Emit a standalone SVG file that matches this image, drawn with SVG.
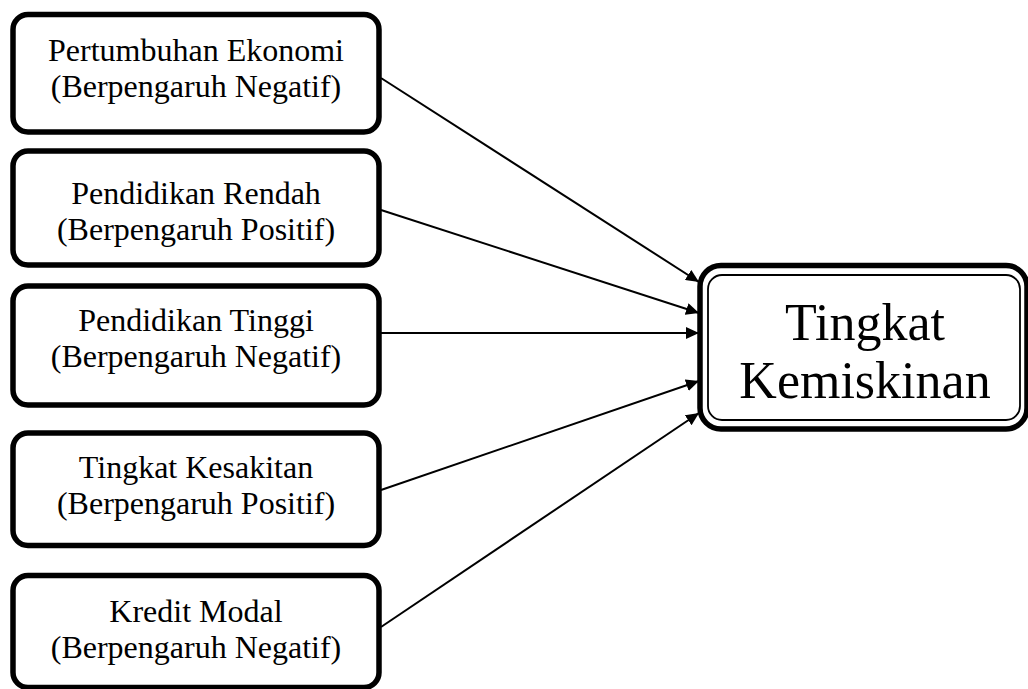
<svg xmlns="http://www.w3.org/2000/svg" width="1028" height="689" viewBox="0 0 1028 689">
<style>
.box{fill:#fff;stroke:#000;stroke-width:5.5}
.t{font-family:"Liberation Serif","Times New Roman",serif;font-size:32px;fill:#000;text-anchor:middle}
.big{font-family:"Liberation Serif","Times New Roman",serif;font-size:52px;fill:#000;text-anchor:middle}
.conn{stroke:#000;stroke-width:2;fill:none;marker-end:url(#ah)}
</style>
<defs>
<marker id="ah" markerUnits="userSpaceOnUse" markerWidth="14" markerHeight="12" refX="13" refY="6" orient="auto">
<path d="M0,0 L13,6 L0,12 Z" fill="#000"/>
</marker>
</defs>
<rect width="1028" height="689" fill="#fff"/>
<g id="connectors">
<line class="conn" x1="381" y1="78" x2="699" y2="282"/>
<line class="conn" x1="381" y1="210" x2="699" y2="313"/>
<line class="conn" x1="381" y1="333" x2="699" y2="333"/>
<line class="conn" x1="381" y1="490" x2="699" y2="381"/>
<line class="conn" x1="381" y1="627" x2="699" y2="413"/>
</g>
<g id="n1">
<rect class="box" x="13" y="14.5" width="366" height="117.5" rx="15"/>
<text class="t" x="196" y="61">Pertumbuhan Ekonomi</text>
<text class="t" x="196" y="97">(Berpengaruh Negatif)</text>
</g>
<g id="n2">
<rect class="box" x="13" y="151" width="366" height="114" rx="15"/>
<text class="t" x="196" y="204">Pendidikan Rendah</text>
<text class="t" x="196" y="240">(Berpengaruh Positif)</text>
</g>
<g id="n3">
<rect class="box" x="13" y="286" width="366" height="119" rx="15"/>
<text class="t" x="196" y="331">Pendidikan Tinggi</text>
<text class="t" x="196" y="367">(Berpengaruh Negatif)</text>
</g>
<g id="n4">
<rect class="box" x="13" y="433" width="366" height="112.5" rx="15"/>
<text class="t" x="196" y="478">Tingkat Kesakitan</text>
<text class="t" x="196" y="514">(Berpengaruh Positif)</text>
</g>
<g id="n5">
<rect class="box" x="13" y="575.5" width="366" height="112" rx="15"/>
<text class="t" x="196" y="622">Kredit Modal</text>
<text class="t" x="196" y="658">(Berpengaruh Negatif)</text>
</g>
<g id="target">
<rect x="700" y="265.5" width="327" height="163.5" rx="21" fill="#fff" stroke="#000" stroke-width="5.5"/>
<rect x="708" y="275" width="312" height="145" rx="14" fill="none" stroke="#000" stroke-width="1.8"/>
<text class="big" x="865" y="340">Tingkat</text>
<text class="big" x="865" y="398">Kemiskinan</text>
</g>
</svg>
